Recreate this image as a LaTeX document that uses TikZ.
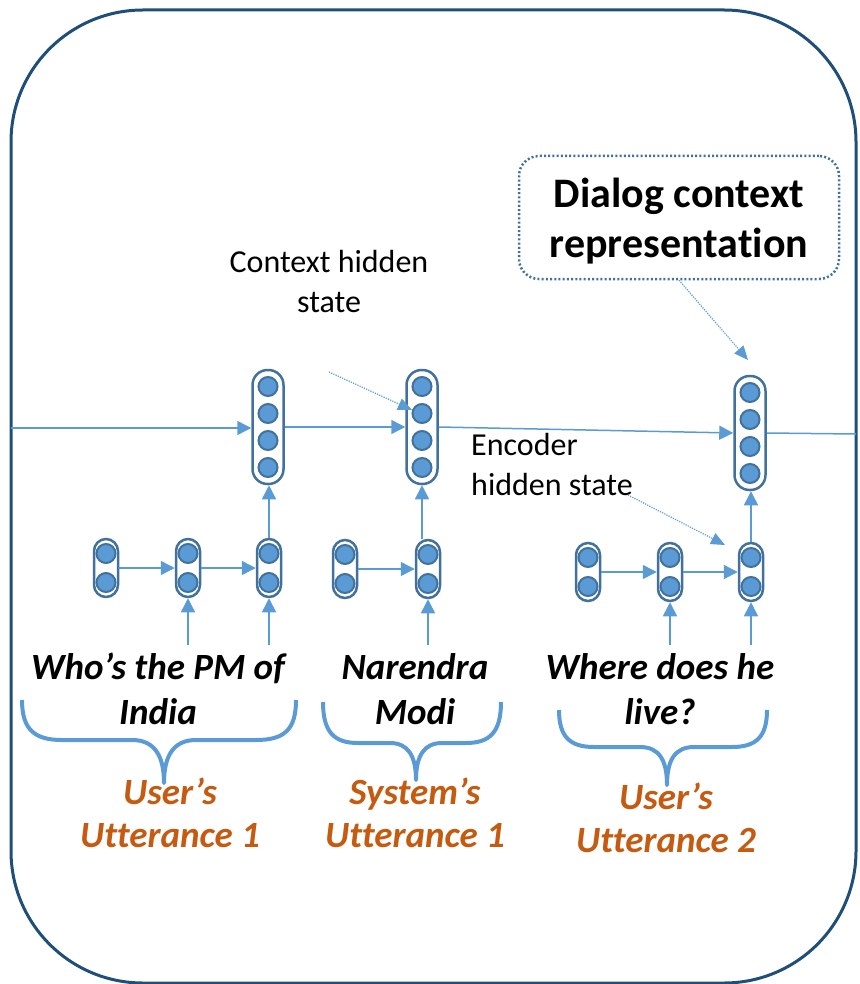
\documentclass[tikz,border=0pt]{standalone}
\usepackage{fontspec}
\setmainfont{Carlito}[RawFeature={-liga}]
\usetikzlibrary{arrows.meta,calc}
\definecolor{frameblue}{HTML}{1F4E79}
\definecolor{cellblue}{HTML}{5B9BD5}
\definecolor{edgeblue}{HTML}{41719C}
\definecolor{uttorange}{HTML}{C55A11}
\tikzset{
  vbfour/.style={draw=edgeblue, line width=2.5pt, rounded corners=15pt, minimum width=31pt, minimum height=114pt, inner sep=0pt, fill=white},
  vbtwo/.style={draw=edgeblue, line width=2.5pt, rounded corners=12pt, minimum width=24pt, minimum height=58pt, inner sep=0pt, fill=white},
  cell/.style={circle, draw=edgeblue, fill=cellblue, line width=2pt, minimum size=19pt, inner sep=0pt},
  arr/.style={draw=cellblue, line width=1.5pt, -{Triangle[length=14pt,width=14pt]}},
  plainline/.style={draw=cellblue, line width=1.5pt},
  dotarr/.style={draw=cellblue, line width=1.2pt, dash pattern=on 1.2pt off 1.2pt, -{Triangle[length=14pt,width=12pt]}},
  brace/.style={draw=cellblue, line width=4pt, line join=round},
  lbl/.style={inner sep=0pt, align=center, font=\fontsize{32}{40}\selectfont},
  utt/.style={inner sep=0pt, align=center, font=\fontsize{37}{45}\selectfont\bfseries\itshape},
  who/.style={inner sep=0pt, align=center, text=uttorange, font=\fontsize{37}{43}\selectfont\bfseries\itshape},
  dialog/.style={draw=edgeblue, line width=2.5pt, dash pattern=on 2pt off 2.2pt, rounded corners=20pt, minimum width=320pt, minimum height=123pt, align=center, inner sep=0pt},
  dialogtext/.style={inner sep=0pt, align=center, font=\fontsize{42}{50}\selectfont\bfseries},
}
\newcommand\vecfour[3]{%
  \node[vbfour] (#1) at (#2,#3) {};
  \foreach \d [count=\i] in {-40.5,-13.5,13.5,40.5}
    \node[cell] (#1-\i) at ($(#1)+(0,\d)$) {};
}
\newcommand\vectwo[3]{%
  \node[vbtwo] (#1) at (#2,#3) {};
  \foreach \d [count=\i] in {-14.5,14.5}
    \node[cell] (#1-\i) at ($(#1)+(0,\d)$) {};
}
\begin{document}
\begin{tikzpicture}[x=1pt,y=-1pt]
\useasboundingbox (0,0) rectangle (859,984);
% outer frame
\draw[frameblue, line width=3pt, rounded corners=132pt] (11,10) rectangle (856,983);

% context vectors
\vecfour{C1}{268}{427}
\vecfour{C2}{422}{427}
\vecfour{C3}{750}{433}

% encoder vectors
\vectwo{E11}{106}{568}
\vectwo{E12}{188}{568}
\vectwo{E13}{269}{568}
\vectwo{E21}{345}{569}
\vectwo{E22}{428}{569}
\vectwo{E31}{588}{572}
\vectwo{E32}{670}{572}
\vectwo{E33}{751}{572}

% context chain
\coordinate (Lin) at (11,428);
\coordinate (Rout) at (856,434);
\draw[arr] (Lin) -- (C1.west |- Lin);
\draw[arr] (C1) -- (C2);
\draw[arr] (C2.east) -- (C3.west);
\draw[plainline] (C3.east) -- (Rout);

% encoder chains
\draw[arr] (E11) -- (E12);
\draw[arr] (E12) -- (E13);
\draw[arr] (E21) -- (E22);
\draw[arr] (E31) -- (E32);
\draw[arr] (E32) -- (E33);

% encoder to context
\draw[arr] (E13.north) -- (E13.north |- C1.south);
\draw[arr] (E22.north -| C2) -- (C2.south);
\draw[arr] (E33.north) -- (E33.north |- C3.south);

% inputs
\coordinate (in12) at (188,645);
\coordinate (in13) at (269,645);
\coordinate (in22) at (428,645);
\coordinate (in32) at (670,645);
\coordinate (in33) at (751,645);
\draw[arr] (in12) -- (E12);
\draw[arr] (in13) -- (E13);
\draw[arr] (in22) -- (E22);
\draw[arr] (in32) -- (E32);
\draw[arr] (in33) -- (E33);

% labels
\node[lbl] (ctxlabel) at (329,282) {Context hidden\\state};
\node[lbl, align=left, anchor=west] (enclabel) at (471,465) {Encoder\\hidden state};
\node[dialog] (D) at (679,217.5) {};
\node[dialogtext] (Dtext) at (679,221) {Dialog context\\representation};

% dotted pointers
\coordinate (ctxfrom) at (329,372);
\coordinate (ctxto) at (412,410);
\coordinate (encfrom) at (628,495);
\coordinate (encto) at (725,545);
\coordinate (dto) at (748,360);
\draw[dotarr] (ctxfrom) -- (ctxto);
\draw[dotarr] (encfrom) -- (encto);
\draw[dotarr] (D.south) -- (dto);

% utterances
\node[utt] (u1) at (158,689) {Who’s the PM of\\India};
\node[utt] (u2) at (415,689) {Narendra\\Modi};
\node[utt] (u3) at (660,689) {Where does he\\live?};

% braces
\draw[brace] (22,700) .. controls (22,730) and (35,740) .. (62,740) -- (132,740)
  .. controls (154,740) and (164,755) .. (164,783)
  .. controls (164,755) and (174,740) .. (196,740) -- (256,740)
  .. controls (284,740) and (296,730) .. (296,700);
\draw[brace] (323,702) .. controls (323,732) and (334,743) .. (358,743) -- (390,743)
  .. controls (408,743) and (416,756) .. (416,780)
  .. controls (416,756) and (424,743) .. (442,743) -- (466,743)
  .. controls (490,743) and (501,732) .. (501,702);
\draw[brace] (559,710) .. controls (559,737) and (570,747) .. (594,747) -- (640,747)
  .. controls (659,747) and (667,760) .. (667,785)
  .. controls (667,760) and (675,747) .. (694,747) -- (732,747)
  .. controls (756,747) and (767,737) .. (767,710);

% speaker labels
\node[who] (s1) at (170,813) {User’s\\Utterance 1};
\node[who] (s2) at (415,813) {System’s\\Utterance 1};
\node[who] (s3) at (666,817.5) {User’s\\Utterance 2};
\end{tikzpicture}
\end{document}
